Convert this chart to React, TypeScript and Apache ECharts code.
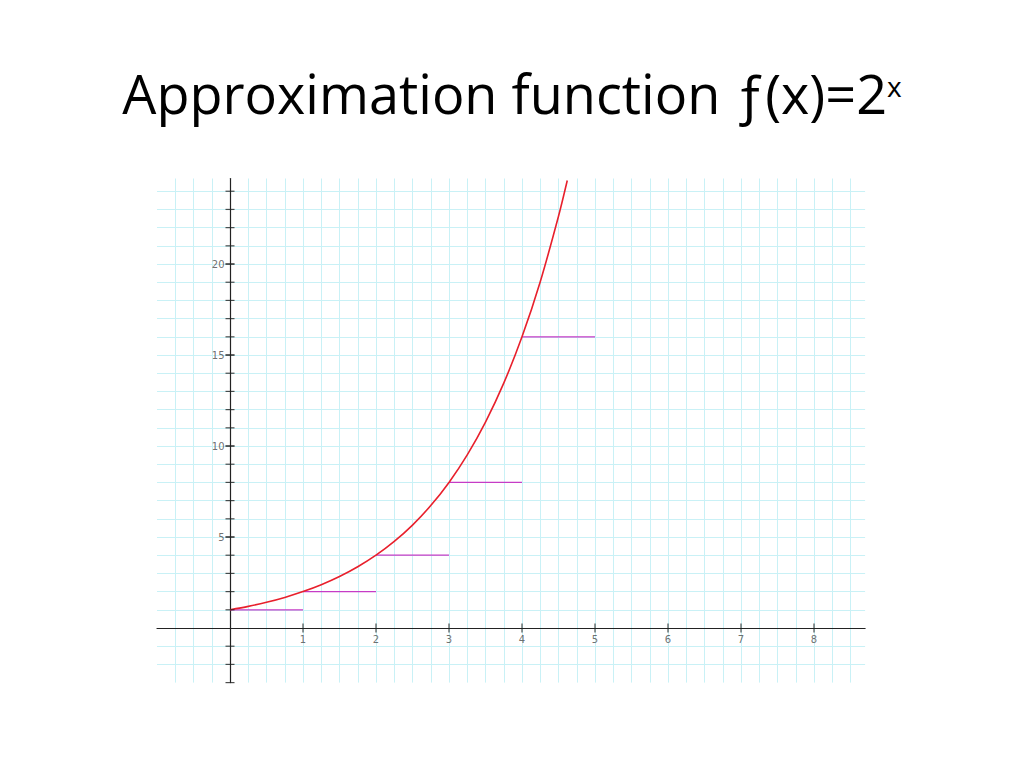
import React, { useEffect, useRef } from "react";
import * as echarts from "echarts";

const curveX = [0, 0.25, 0.5, 0.75, 1, 1.25, 1.5, 1.75, 2, 2.25, 2.5, 2.75, 3, 3.25, 3.5, 3.75, 4, 4.25, 4.5, 4.62];
const curveY = [1, 1.189, 1.414, 1.682, 2, 2.378, 2.828, 3.364, 4, 4.757, 5.657, 6.727, 8, 9.514, 11.314, 13.454, 16, 19.027, 22.627, 24.59];

const stepStart = [0, 1, 2, 3, 4];
const stepEnd = [1, 2, 3, 4, 5];
const stepHeight = [1, 2, 4, 8, 16];

const xTickValues = [1, 2, 3, 4, 5, 6, 7, 8];
const yTickValues = [-3, -2, -1, 1, 2, 3, 4, 5, 6, 7, 8, 9, 10, 11, 12, 13, 14, 15, 16, 17, 18, 19, 20, 21, 22, 23, 24];
const yLabelValues = [5, 10, 15, 20];

const GRID_COLOR = "#c9f1f6";
const AXIS_COLOR = "#222222";
const LABEL_STYLE = { fontFamily: "DejaVu Sans", fontSize: 10, color: "#4a4a4a" };

export default function App() {
  const ref = useRef<HTMLDivElement>(null);
  useEffect(() => {
    if (!ref.current) return;
    const chart = echarts.init(ref.current, null, { renderer: "svg" });
    const stepSeries = stepStart.map((s, i) => ({
      type: "line",
      data: [
        [s, stepHeight[i]],
        [stepEnd[i], stepHeight[i]],
      ],
      symbol: "none",
      lineStyle: { color: "#c63cc6", width: 1.2 },
      z: 3,
    }));
    chart.setOption({
      animation: false,
      backgroundColor: "#ffffff",
      title: {
        left: "center",
        top: 52,
        text: "{a|Approximation function ƒ(x)=2}{b|x}",
        textStyle: {
          fontWeight: "normal",
          rich: {
            a: { fontFamily: "Open Sans", fontWeight: "normal", fontSize: 54, color: "#000000", lineHeight: 72 },
            b: { fontFamily: "Open Sans", fontWeight: "normal", fontSize: 28, color: "#000000", verticalAlign: "top", padding: [15, 0, 0, 0] },
          },
        },
      },
      grid: { left: 157, top: 178.5, width: 708.1, height: 504.1, containLabel: false },
      xAxis: {
        type: "value",
        min: -1,
        max: 8.7,
        interval: 1,
        axisLine: { onZero: true, lineStyle: { color: AXIS_COLOR, width: 1.2 } },
        axisTick: { show: false },
        axisLabel: { show: false },
        splitLine: { show: true, showMinLine: false, showMaxLine: false, lineStyle: { color: GRID_COLOR, width: 1 } },
        minorTick: { show: false, splitNumber: 4 },
        minorSplitLine: { show: true, lineStyle: { color: GRID_COLOR, width: 1 } },
      },
      yAxis: {
        type: "value",
        min: -3,
        max: 24.7,
        interval: 1,
        axisLine: { onZero: true, lineStyle: { color: AXIS_COLOR, width: 1.2 } },
        axisTick: { show: false },
        axisLabel: { show: false },
        splitLine: { show: true, showMinLine: false, showMaxLine: false, lineStyle: { color: GRID_COLOR, width: 1 } },
      },
      series: [
        ...stepSeries,
        {
          type: "scatter",
          data: xTickValues.map((v) => [v, 0]),
          symbol: "rect",
          symbolSize: [1.2, 9],
          itemStyle: { color: AXIS_COLOR },
          label: {
            show: true,
            position: "bottom",
            distance: 2,
            formatter: (p: any) => String(p.value[0]),
            ...LABEL_STYLE,
          },
          silent: true,
          z: 5,
        },
        {
          type: "scatter",
          data: yTickValues.map((v) => [0, v]),
          symbol: "rect",
          symbolSize: [9, 1.2],
          itemStyle: { color: AXIS_COLOR },
          silent: true,
          z: 5,
        },
        {
          type: "scatter",
          data: yLabelValues.map((v) => [0, v]),
          symbol: "rect",
          symbolSize: [9, 1.2],
          itemStyle: { color: AXIS_COLOR },
          label: {
            show: true,
            position: "left",
            distance: 1,
            formatter: (p: any) => String(p.value[1]),
            ...LABEL_STYLE,
          },
          silent: true,
          z: 5,
        },
        {
          type: "line",
          data: curveX.map((x, i) => [x, curveY[i]]),
          smooth: 0.3,
          symbol: "none",
          lineStyle: { color: "#e8202c", width: 1.6 },
          z: 4,
        },
      ],
    });
    return () => chart.dispose();
  }, []);
  return <div ref={ref} style={{ position: "fixed", left: 0, top: 0, width: 1024, height: 768 }} />;
}
